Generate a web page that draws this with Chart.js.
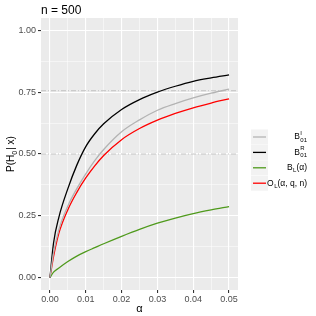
<!DOCTYPE html>
<html lang="en">
<head>
    <meta charset="UTF-8">
    <title>n = 500</title>
    <script src="https://cdn.jsdelivr.net/npm/chart.js"></script>
    <style>
        html, body { margin: 0; padding: 0; background: #fff; }
        #wrap { width: 316px; height: 316px; position: relative; }
    </style>
</head>
<body>
    <div id="wrap"><canvas id="chart"></canvas></div>
    <script>
        // values
        const alphas = [0, 0.001, 0.0025, 0.005, 0.0075, 0.01, 0.0125, 0.015, 0.02, 0.025, 0.03, 0.035, 0.04, 0.045, 0.05];
        const bI01 = [0, 0.10, 0.195, 0.29, 0.36, 0.42, 0.473, 0.518, 0.59, 0.638, 0.677, 0.704, 0.727, 0.746, 0.762];
        const bR01 = [0, 0.14, 0.245, 0.36, 0.455, 0.53, 0.582, 0.622, 0.68, 0.72, 0.75, 0.774, 0.794, 0.808, 0.82];
        const bL = [0, 0.022, 0.039, 0.065, 0.087, 0.105, 0.121, 0.137, 0.167, 0.195, 0.22, 0.241, 0.259, 0.274, 0.2875];
        const oL = [0, 0.085, 0.18, 0.275, 0.345, 0.403, 0.452, 0.494, 0.558, 0.603, 0.637, 0.664, 0.687, 0.706, 0.723];
        const refLevels = [0.5, 0.756];

        const xTicks = [0, 0.005, 0.01, 0.015, 0.02, 0.025, 0.03, 0.035, 0.04, 0.045, 0.05];
        const yTicks = [0, 0.125, 0.25, 0.375, 0.5, 0.625, 0.75, 0.875, 1];
        const xMin = -0.0025, xMax = 0.0525, yMin = -0.05, yMax = 1.05;

        const legendLabels = [
            { base: 'B', sup: 'I', sub: '01', rest: '' },
            { base: 'B', sup: 'R', sub: '01', rest: '' },
            { base: 'B', sup: '', sub: 'L', rest: '(\u03b1)' },
            { base: 'O', sup: '', sub: 'L', rest: '(\u03b1, q, n)' }
        ];
        const colors = ['#b3b3b3', '#000000', '#4f9a1c', '#ff0000'];
        const FONT = '"Liberation Sans", Arial, sans-serif';

        const pts = ys => alphas.map((a, i) => ({ x: a, y: ys[i] }));
        const isMajorX = v => Math.abs(v * 100 - Math.round(v * 100)) < 1e-6;
        const isMajorY = v => Math.abs(v * 4 - Math.round(v * 4)) < 1e-6;

        const curve = (ys, color) => ({
            data: pts(ys), borderColor: color, borderWidth: 1.3,
            pointRadius: 0, cubicInterpolationMode: 'monotone', order: 1
        });
        const refLine = lvl => ({
            data: [{ x: xMin, y: lvl }, { x: xMax, y: lvl }],
            borderColor: '#c4c4c4', borderWidth: 1, borderDash: [5, 2, 1, 2],
            pointRadius: 0, order: 5
        });

        // text with sub/superscripts
        function mathWidth(ctx, it) {
            ctx.font = '8.5px ' + FONT;
            let w = ctx.measureText(it.base).width + ctx.measureText(it.rest).width;
            ctx.font = '6px ' + FONT;
            w += Math.max(ctx.measureText(it.sup).width, ctx.measureText(it.sub).width) + 0.5;
            return w;
        }
        function drawMath(ctx, it, x, y) {
            ctx.textBaseline = 'middle';
            ctx.textAlign = 'left';
            ctx.font = '8.5px ' + FONT;
            ctx.fillText(it.base, x, y);
            x += ctx.measureText(it.base).width + 0.5;
            ctx.font = '6px ' + FONT;
            if (it.sup) ctx.fillText(it.sup, x, y - 4);
            if (it.sub) ctx.fillText(it.sub, x, y + 3);
            x += Math.max(ctx.measureText(it.sup).width, ctx.measureText(it.sub).width);
            ctx.font = '8.5px ' + FONT;
            ctx.fillText(it.rest, x, y);
        }

        const decor = {
            id: 'decor',
            beforeDraw(chart) {
                const { ctx, chartArea: a } = chart;
                ctx.save();
                ctx.fillStyle = '#ebebeb';
                ctx.fillRect(a.left, a.top, a.right - a.left, a.bottom - a.top);
                ctx.restore();
            },
            afterDraw(chart) {
                const { ctx, chartArea: a } = chart;
                ctx.save();
                ctx.fillStyle = '#000';
                // title
                ctx.font = '12px ' + FONT;
                ctx.textBaseline = 'alphabetic';
                ctx.textAlign = 'left';
                ctx.fillText('n = 500', a.left, 14);
                // x title
                ctx.font = '11px ' + FONT;
                ctx.textAlign = 'center';
                ctx.fillText('\u03b1', (a.left + a.right) / 2, 312);
                // y title
                ctx.translate(14, (a.top + a.bottom) / 2);
                ctx.rotate(-Math.PI / 2);
                const p1 = 'P(H', p3 = '| x)';
                ctx.font = '10px ' + FONT;
                const w1 = ctx.measureText(p1).width, w3 = ctx.measureText(p3).width;
                ctx.font = '7px ' + FONT;
                const w2 = ctx.measureText('0').width + 1;
                const x0 = -(w1 + w2 + w3) / 2;
                ctx.textAlign = 'left';
                ctx.font = '10px ' + FONT;
                ctx.fillText(p1, x0, 0);
                ctx.font = '7px ' + FONT;
                ctx.fillText('0', x0 + w1, 2.5);
                ctx.font = '10px ' + FONT;
                ctx.fillText(p3, x0 + w1 + w2, 0);
                ctx.restore();

                // legend
                ctx.save();
                legendLabels.forEach((it, i) => {
                    const cy = 137 + i * 15.4;
                    ctx.fillStyle = '#f2f2f2';
                    ctx.fillRect(251, cy - 7.5, 17, 15);
                    ctx.strokeStyle = colors[i];
                    ctx.lineWidth = 1.3;
                    ctx.beginPath();
                    ctx.moveTo(253, cy);
                    ctx.lineTo(266, cy);
                    ctx.stroke();
                    ctx.fillStyle = '#000';
                    const w = mathWidth(ctx, it);
                    drawMath(ctx, it, 307 - w, cy);
                });
                ctx.restore();
            }
        };

        const tickFont = { family: FONT, size: 9 };

        new Chart(document.getElementById('chart'), {
            type: 'line',
            data: {
                datasets: [
                    curve(bI01, colors[0]),
                    curve(bR01, colors[1]),
                    curve(bL, colors[2]),
                    curve(oL, colors[3]),
                    ...refLevels.map(refLine)
                ]
            },
            options: {
                responsive: true,
                maintainAspectRatio: false,
                animation: false,
                events: [],
                layout: { padding: { top: 18, right: 78, left: 0, bottom: 0 } },
                plugins: { legend: { display: false }, tooltip: { enabled: false } },
                scales: {
                    x: {
                        type: 'linear', min: xMin, max: xMax,
                        afterBuildTicks: s => { s.ticks = xTicks.map(v => ({ value: v })); },
                        afterFit: s => { s.height = 26; },
                        border: { display: false },
                        grid: {
                            color: '#ffffff',
                            lineWidth: c => isMajorX(c.tick.value) ? 1.1 : 0.5,
                            tickColor: c => isMajorX(c.tick.value) ? '#333333' : 'rgba(0,0,0,0)',
                            tickLength: 3
                        },
                        ticks: {
                            autoSkip: false, maxRotation: 0, padding: 1,
                            color: '#4d4d4d', font: tickFont,
                            callback: v => isMajorX(v) ? v.toFixed(2) : ''
                        }
                    },
                    y: {
                        type: 'linear', min: yMin, max: yMax,
                        afterBuildTicks: s => { s.ticks = yTicks.map(v => ({ value: v })); },
                        afterFit: s => { s.width = 41; },
                        border: { display: false },
                        grid: {
                            color: '#ffffff',
                            lineWidth: c => isMajorY(c.tick.value) ? 1.1 : 0.5,
                            tickColor: c => isMajorY(c.tick.value) ? '#333333' : 'rgba(0,0,0,0)',
                            tickLength: 3
                        },
                        ticks: {
                            autoSkip: false, padding: 2,
                            color: '#4d4d4d', font: tickFont,
                            callback: v => isMajorY(v) ? v.toFixed(2) : ''
                        }
                    }
                }
            },
            plugins: [decor]
        });
    </script>
</body>
</html>
